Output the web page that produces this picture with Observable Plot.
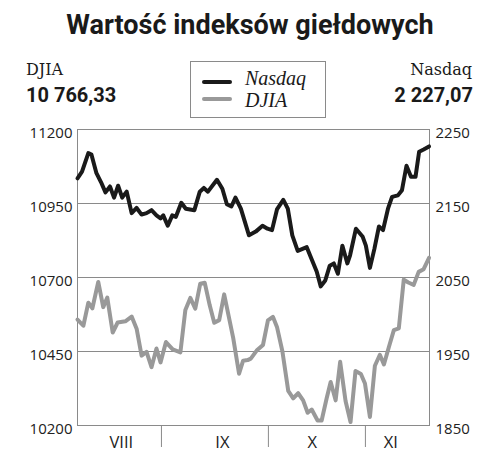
<!DOCTYPE html>
<html><head><meta charset="utf-8">
<script src="https://cdn.jsdelivr.net/npm/d3@7"></script>
<script src="https://cdn.jsdelivr.net/npm/@observablehq/plot@0.6"></script>
<style>
body{margin:0;background:#fff;}
#wrap{position:relative;width:500px;height:460px;overflow:hidden;background:#fff;}
#head{position:relative;width:500px;height:120px;}
#head div{position:absolute;line-height:1;white-space:nowrap;color:#1a1a1a;}
.title{left:0;width:500px;top:12px;text-align:center;font:700 27px Roboto;}
.lab{font:400 16px "DejaVu Serif";top:62px;}
.val{font:700 20px Roboto;top:85px;}
.legbox{left:190px;top:61px;width:134px;height:55px;border:1px solid #8a8a8a;}
.legline{left:202px;width:30px;height:4px;border-radius:2px;}
.legtxt{left:245px;font:italic 400 20px "Liberation Serif";}
#chart{position:absolute;left:0;top:120px;}
</style></head>
<body>
<div id="wrap">
  <div id="head">
    <div class="title">Wartość indeksów giełdowych</div>
    <div class="lab" style="left:26px">DJIA</div>
    <div class="val" style="left:26px">10 766,33</div>
    <div class="lab" style="right:28px">Nasdaq</div>
    <div class="val" style="right:27px">2 227,07</div>
    <div class="legbox"></div>
    <div class="legline" style="top:80px;background:#1a1a1a"></div>
    <div class="legline" style="top:97px;background:#999"></div>
    <div class="legtxt" style="top:68px">Nasdaq</div>
    <div class="legtxt" style="top:90px">DJIA</div>
  </div>
  <div id="chart"></div>
</div>
<script>
// Data (x = position along the period, in trading-day units)
const nasdaqX = [0,1.0,2.4,3.1,4.2,5.2,6.2,7.2,8.1,9.0,9.9,10.9,12.0,13.1,14.2,15.3,16.4,17.5,18.4,19.0,20.0,21.0,21.8,23.0,24.0,25.9,27.1,28.0,28.9,30.9,32.1,33.1,34.1,35.0,36.2,38.0,39.5,41.0,42.1,43.1,44.2,45.6,46.6,47.6,48.8,50.8,52.0,53.0,53.9,54.9,55.9,56.8,57.7,58.7,59.8,60.4,61.7,63.2,63.9,64.8,65.8,66.8,67.7,68.8,69.7,71.0,71.9,72.9,73.9,74.9,75.7,76.7,77.9];
const nasdaqV = [2184,2193,2218,2216,2191,2179,2165,2173,2158,2174,2158,2166,2137,2144,2135,2137,2141,2134,2130,2134,2120,2134,2132,2151,2143,2141,2166,2171,2166,2182,2170,2149,2146,2158,2143,2107,2112,2120,2116,2114,2142,2155,2143,2107,2086,2091,2073,2058,2038,2046,2066,2069,2055,2093,2069,2080,2116,2105,2093,2063,2089,2119,2114,2143,2159,2161,2168,2201,2186,2186,2220,2223,2227.07];
const djiaX = [0,1.3,2.4,3.3,4.6,5.7,6.6,7.8,8.9,10.6,12.0,13.1,14.2,15.3,16.4,17.5,18.4,19.6,21.1,22.8,23.9,25.0,26.1,27.2,28.2,29.3,30.3,31.4,32.5,34.5,35.8,36.7,37.7,38.4,39.7,41.1,42.2,43.3,44.2,45.4,46.7,47.8,48.9,50.0,51.0,51.9,53.2,54.1,55.2,56.1,57.2,58.2,59.4,60.5,61.6,62.8,63.7,64.8,65.9,67.0,67.9,69.0,70.1,71.2,72.3,73.3,74.5,75.6,76.7,77.9];
const djiaV = [10558,10537,10615,10596,10685,10600,10632,10514,10548,10552,10568,10527,10436,10449,10397,10460,10413,10482,10457,10447,10590,10631,10595,10679,10682,10606,10547,10556,10643,10496,10375,10419,10421,10426,10453,10472,10555,10567,10533,10451,10317,10292,10309,10285,10243,10254,10217,10217,10291,10347,10285,10415,10283,10212,10384,10374,10342,10229,10402,10439,10406,10465,10522,10528,10693,10683,10675,10719,10728,10766.33];
const djiaTicks = [10200,10450,10700,10950,11200];
const nasdaqTicks = [1850,1950,2050,2150,2250];
const monthBounds = [18.6,42.3,63.8];
const monthPos = [9.7,32.1,52.0,69.4];
const monthLabels = ["VIII","IX","X","XI"];

// Nasdaq shares the plot with DJIA: its axis 1850–2250 spans the same height as 10200–11200
const n0 = nasdaqTicks[0], n1 = nasdaqTicks[nasdaqTicks.length-1];
const d0 = djiaTicks[0], d1 = djiaTicks[djiaTicks.length-1];
const toDjia = n => d0 + (n - n0) * (d1 - d0) / (n1 - n0);
const rightLabel = new Map(nasdaqTicks.map(n => [toDjia(n), String(n)]));

const nasdaq = nasdaqX.map((x,i) => ({x, v: nasdaqV[i]}));
const djia = djiaX.map((x,i) => ({x, v: djiaV[i]}));
const months = monthLabels.map((m,i) => ({m, x: monthPos[i]}));

const grey = "#8a8a8a";
const chart = Plot.plot({
  width: 500, height: 340,
  marginTop: 9, marginBottom: 35, marginLeft: 77, marginRight: 71,
  x: {domain: [0, 78], axis: null},
  y: {domain: [d0, d1], axis: null},
  style: {fontFamily: "'Open Sans'", fontSize: "15px", color: "#222", background: "#fff"},
  marks: [
    Plot.ruleY(djiaTicks, {stroke: grey, strokeWidth: 1}),
    Plot.frame({stroke: grey, strokeWidth: 1}),
    Plot.line(djia, {x: "x", y: "v", stroke: "#999", strokeWidth: 4, strokeLinejoin: "round"}),
    Plot.line(nasdaq, {x: "x", y: d => toDjia(d.v), stroke: "#1a1a1a", strokeWidth: 4, strokeLinejoin: "round"}),
    Plot.axisY(djiaTicks, {anchor: "left", tickSize: 0, tickPadding: 5, dy: 4, label: null, fontSize: 15, tickFormat: d => String(d)}),
    Plot.axisY(nasdaqTicks.map(toDjia), {anchor: "right", tickSize: 0, tickPadding: 6, dy: 4, label: null, fontSize: 15, tickFormat: d => rightLabel.get(d)}),
    Plot.axisX(monthBounds, {anchor: "bottom", tickSize: 22, tickFormat: () => "", stroke: grey, label: null}),
    Plot.text(months, {x: "x", text: "m", frameAnchor: "bottom", lineAnchor: "middle", dy: 17, fontSize: 16.5, fill: "#222"})
  ]
});
document.getElementById("chart").appendChild(chart);
</script>
</body></html>
